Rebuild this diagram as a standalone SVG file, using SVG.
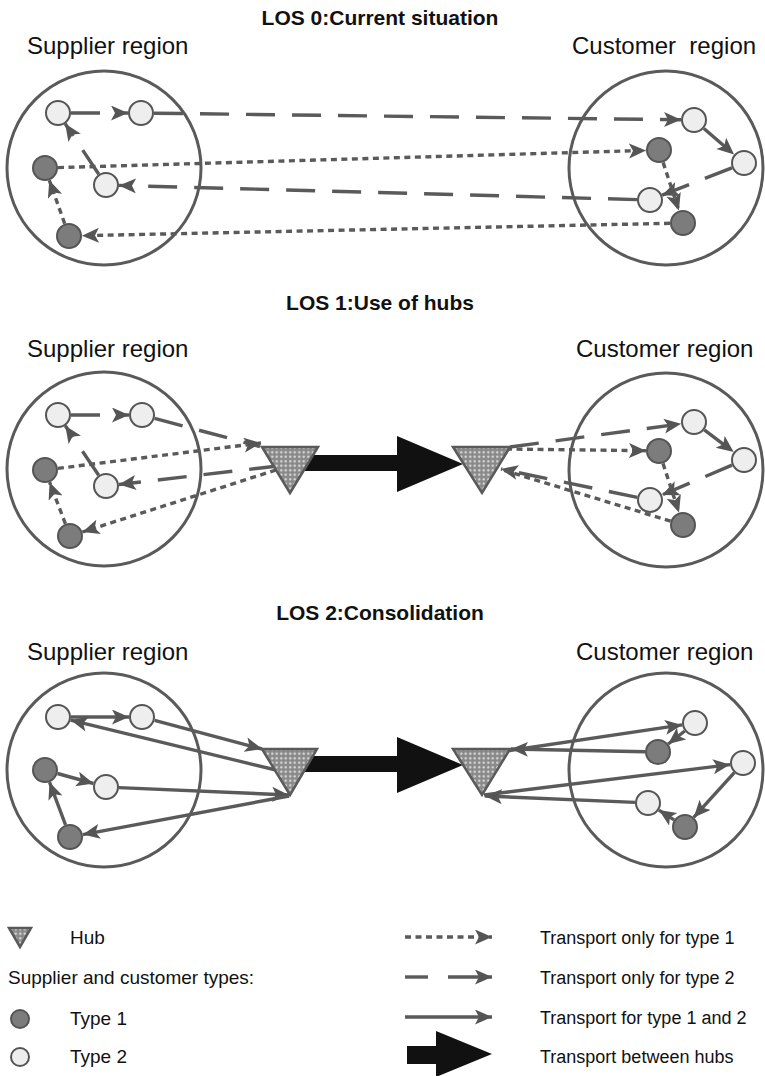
<svg xmlns="http://www.w3.org/2000/svg" width="765" height="1076" viewBox="0 0 765 1076">
  <style>
    .bg { fill:#ffffff; }
    .region { fill:none; stroke:#5a5a5a; stroke-width:3; }
    .t1 { fill:#7c7c7c; stroke:#555555; stroke-width:2; }
    .t2 { fill:#eeeeee; stroke:#555555; stroke-width:2; }
    .hub { fill:url(#dots); stroke:#5a5a5a; stroke-width:2.5; stroke-linejoin:miter; }
    .conn { fill:none; stroke:#5a5a5a; stroke-width:3.4; }
    .dot { stroke-dasharray:6 4.5; }
    .dash { stroke-dasharray:29 17; }
    .arr { marker-end:url(#ah); }
    .big { fill:#111111; }
    .title { font-family:"Liberation Sans", Arial, sans-serif; font-weight:bold; font-size:21px; fill:#111111; text-anchor:middle; }
    .reg { font-family:"Liberation Sans", Arial, sans-serif; font-size:24px; fill:#111111; }
    .leg { font-family:"Liberation Sans", Arial, sans-serif; font-size:18px; fill:#111111; }
    .legl { font-family:"Liberation Sans", Arial, sans-serif; font-size:19px; fill:#111111; }
  </style>
  <defs>
    <pattern id="dots" width="4.5" height="4.5" patternUnits="userSpaceOnUse">
      <rect width="4.5" height="4.5" fill="#8a8a8a"/>
      <circle cx="2.25" cy="2.25" r="1.1" fill="#e4e4e4"/>
    </pattern>
    <marker id="ah" markerUnits="userSpaceOnUse" markerWidth="18" markerHeight="16" refX="17" refY="7.5" orient="auto">
      <path d="M0,0 L17,7.5 L0,15 L4,7.5 z" fill="#555555"/>
    </marker>
  </defs>

  <rect class="bg" x="0" y="0" width="765" height="1076"/>

  <!-- headings -->
  <g id="headings">
    <text class="title" x="380" y="25">LOS 0:Current situation</text>
    <text class="title" x="380" y="310">LOS 1:Use of hubs</text>
    <text class="title" x="380" y="620">LOS 2:Consolidation</text>
    <text class="reg" x="27" y="54">Supplier region</text>
    <text class="reg" x="572" y="54" xml:space="preserve">Customer  region</text>
    <text class="reg" x="27" y="357">Supplier region</text>
    <text class="reg" x="576" y="357">Customer region</text>
    <text class="reg" x="27" y="660">Supplier region</text>
    <text class="reg" x="576" y="660">Customer region</text>
  </g>

  <!-- region outlines -->
  <g id="regions">
    <circle id="los0-supplier-region" class="region" cx="104" cy="168" r="97"/>
    <circle id="los0-customer-region" class="region" cx="666" cy="168" r="97"/>
    <circle id="los1-supplier-region" class="region" cx="104" cy="469" r="97"/>
    <circle id="los1-customer-region" class="region" cx="666" cy="470" r="97"/>
    <circle id="los2-supplier-region" class="region" cx="104" cy="770" r="97"/>
    <circle id="los2-customer-region" class="region" cx="666" cy="770" r="97"/>
  </g>

  <!-- transport links -->
  <g id="connectors">
    <!-- LOS 0: direct milk runs -->
    <line class="conn dash arr" x1="71" y1="113" x2="128" y2="113"/>
    <line class="conn dash arr" x1="154" y1="113.2" x2="681" y2="119.8"/>
    <line class="conn dash arr" x1="703.9" y1="128.5" x2="734.1" y2="154.5"/>
    <line class="conn dash arr" x1="731.9" y1="167.8" x2="662.1" y2="195.2"/>
    <line class="conn dash arr" x1="637" y1="199.6" x2="119" y2="185.4"/>
    <line class="conn dash arr" x1="98.8" y1="174.2" x2="65.2" y2="123.8"/>
    <line class="conn dot arr" x1="58" y1="167.6" x2="646" y2="150.4"/>
    <line class="conn dot arr" x1="663.1" y1="162.4" x2="678.9" y2="210.6"/>
    <line class="conn dot arr" x1="670" y1="223.3" x2="82" y2="235.7"/>
    <line class="conn dot arr" x1="64.7" y1="223.7" x2="49.3" y2="180.3"/>

    <!-- LOS 1: routes via hubs -->
    <line class="conn dash arr" x1="71" y1="415" x2="129" y2="415"/>
    <line class="conn dash" x1="154.6" y1="418.4" x2="260" y2="446.5"/>
    <line class="conn dot arr" x1="57.9" y1="468.4" x2="261" y2="443"/>
    <line class="conn dash arr" x1="278" y1="466" x2="118.9" y2="484.5"/>
    <line class="conn dot arr" x1="276" y1="470" x2="82.4" y2="532"/>
    <line class="conn dash arr" x1="98.7" y1="475.2" x2="65.3" y2="425.8"/>
    <line class="conn dot arr" x1="65.4" y1="523.8" x2="49.6" y2="482.2"/>
    <polygon class="big" points="300,455 397,455 397,436 463,464 397,492 397,471 300,471"/>
    <line class="conn dash arr" x1="510" y1="447" x2="681.1" y2="423.8"/>
    <line class="conn dot arr" x1="506" y1="449" x2="646" y2="450.7"/>
    <line class="conn dash arr" x1="704.3" y1="429.9" x2="733.7" y2="452.1"/>
    <line class="conn dash arr" x1="732" y1="465.1" x2="662" y2="494.9"/>
    <line class="conn dot arr" x1="663" y1="463.4" x2="679" y2="512.6"/>
    <line class="conn dash arr" x1="637.3" y1="497.4" x2="501" y2="469"/>
    <line class="conn dot" x1="670.6" y1="521.2" x2="503" y2="470"/>

    <!-- LOS 2: consolidated routes -->
    <line class="conn arr" x1="71" y1="717" x2="129" y2="717"/>
    <line class="conn arr" x1="154.6" y1="720.4" x2="262" y2="749"/>
    <line class="conn arr" x1="276" y1="770" x2="70.6" y2="720.1"/>
    <line class="conn arr" x1="57.5" y1="773.5" x2="93.5" y2="783.5"/>
    <line class="conn arr" x1="119" y1="787.6" x2="289" y2="795"/>
    <line class="conn arr" x1="289" y1="796" x2="82.8" y2="834.6"/>
    <line class="conn arr" x1="65.5" y1="824.8" x2="49.5" y2="782.2"/>
    <polygon class="big" points="300,756 397,756 397,737 463,765 397,793 397,772 300,772"/>
    <line class="conn arr" x1="506" y1="751" x2="682.1" y2="724.9"/>
    <line class="conn arr" x1="645" y1="751.7" x2="511" y2="749"/>
    <line class="conn arr" x1="684.8" y1="731" x2="668.2" y2="744"/>
    <line class="conn arr" x1="484" y1="795" x2="730.1" y2="764.6"/>
    <line class="conn arr" x1="734.3" y1="772.6" x2="693.7" y2="817.4"/>
    <line class="conn arr" x1="674.1" y1="819.9" x2="658.9" y2="810.1"/>
    <line class="conn arr" x1="635" y1="802.4" x2="485" y2="796"/>
  </g>

  <!-- LOS 0 sites -->
  <g id="los0-s2a"><circle class="t2" cx="58" cy="113" r="12"/></g>
  <g id="los0-s2b"><circle class="t2" cx="141" cy="113" r="12"/></g>
  <g id="los0-s1a"><circle class="t1" cx="45" cy="168" r="12"/></g>
  <g id="los0-s2c"><circle class="t2" cx="106" cy="185" r="12"/></g>
  <g id="los0-s1b"><circle class="t1" cx="69" cy="236" r="12"/></g>
  <g id="los0-c2a"><circle class="t2" cx="694" cy="120" r="12"/></g>
  <g id="los0-c1a"><circle class="t1" cx="659" cy="150" r="12"/></g>
  <g id="los0-c2b"><circle class="t2" cx="744" cy="163" r="12"/></g>
  <g id="los0-c2c"><circle class="t2" cx="650" cy="200" r="12"/></g>
  <g id="los0-c1b"><circle class="t1" cx="683" cy="223" r="12"/></g>

  <!-- LOS 1 sites and hubs -->
  <g id="los1-s2a"><circle class="t2" cx="58" cy="415" r="12"/></g>
  <g id="los1-s2b"><circle class="t2" cx="142" cy="415" r="12"/></g>
  <g id="los1-s1a"><circle class="t1" cx="45" cy="470" r="12"/></g>
  <g id="los1-s2c"><circle class="t2" cx="106" cy="486" r="12"/></g>
  <g id="los1-s1b"><circle class="t1" cx="70" cy="536" r="12"/></g>
  <g id="los1-hub-supplier"><polygon class="hub" points="262,447 318,447 290,493"/></g>
  <g id="los1-hub-customer"><polygon class="hub" points="453,447 510,447 482,493"/></g>
  <g id="los1-c2a"><circle class="t2" cx="694" cy="422" r="12"/></g>
  <g id="los1-c1a"><circle class="t1" cx="659" cy="451" r="12"/></g>
  <g id="los1-c2b"><circle class="t2" cx="744" cy="460" r="12"/></g>
  <g id="los1-c2c"><circle class="t2" cx="650" cy="500" r="12"/></g>
  <g id="los1-c1b"><circle class="t1" cx="683" cy="525" r="12"/></g>

  <!-- LOS 2 sites and hubs -->
  <g id="los2-s2a"><circle class="t2" cx="58" cy="717" r="12"/></g>
  <g id="los2-s2b"><circle class="t2" cx="142" cy="717" r="12"/></g>
  <g id="los2-s1a"><circle class="t1" cx="45" cy="770" r="12"/></g>
  <g id="los2-s2c"><circle class="t2" cx="106" cy="787" r="12"/></g>
  <g id="los2-s1b"><circle class="t1" cx="70" cy="837" r="12"/></g>
  <g id="los2-hub-supplier"><polygon class="hub" points="262,749 317,749 290,795"/></g>
  <g id="los2-hub-customer"><polygon class="hub" points="453,749 510,749 482,795"/></g>
  <g id="los2-c2a"><circle class="t2" cx="695" cy="723" r="12"/></g>
  <g id="los2-c1a"><circle class="t1" cx="658" cy="752" r="12"/></g>
  <g id="los2-c2b"><circle class="t2" cx="743" cy="763" r="12"/></g>
  <g id="los2-c2c"><circle class="t2" cx="648" cy="803" r="12"/></g>
  <g id="los2-c1b"><circle class="t1" cx="685" cy="827" r="12"/></g>

  <!-- key -->
  <g id="legend">
    <polygon class="hub" points="9,928 31,928 20,947"/>
    <text class="legl" x="70" y="944">Hub</text>
    <text class="legl" x="8" y="984">Supplier and customer types:</text>
    <circle class="t1" cx="20" cy="1019" r="9"/>
    <text class="legl" x="70" y="1025">Type 1</text>
    <circle class="t2" cx="20" cy="1057" r="9"/>
    <text class="legl" x="70" y="1063">Type 2</text>

    <line class="conn dot arr" x1="405" y1="937" x2="492" y2="937"/>
    <line class="conn" x1="405" y1="977" x2="428" y2="977"/>
    <line class="conn arr" x1="448" y1="977" x2="492" y2="977"/>
    <line class="conn arr" x1="405" y1="1017" x2="492" y2="1017"/>
    <polygon class="big" points="407,1046 436,1046 436,1031 492,1054 436,1077 436,1064 407,1064"/>

    <text class="leg" x="540" y="944">Transport only for type 1</text>
    <text class="leg" x="540" y="984">Transport only for type 2</text>
    <text class="leg" x="540" y="1024">Transport for type 1 and 2</text>
    <text class="leg" x="540" y="1063">Transport between hubs</text>
  </g>
</svg>
